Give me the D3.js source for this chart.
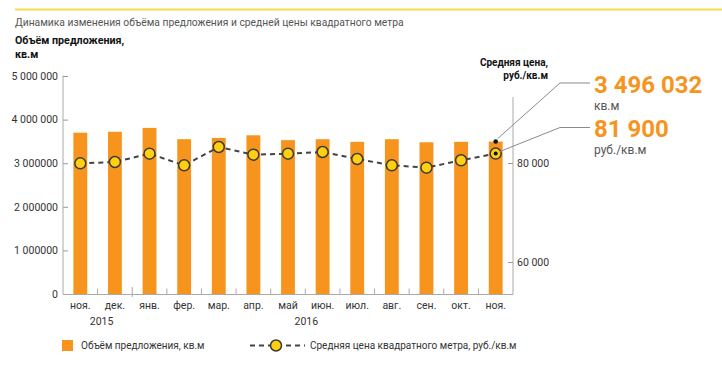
<!DOCTYPE html>
<html><head><meta charset="utf-8">
<script src="https://cdn.jsdelivr.net/npm/d3@7"></script>
<style>
body{margin:0;background:#fff;}
svg{display:block;font-family:Roboto,sans-serif;}
</style></head>
<body><svg id="c" width="722" height="390"></svg>
<script>
const months = ["ноя.","дек.","янв.","фер.","мар.","апр.","май","июн.","июл.","авг.","сен.","окт.","ноя."];
const volume = [3700000,3720000,3810000,3550000,3580000,3640000,3530000,3550000,3490000,3550000,3480000,3490000,3496032];
const price = [79940,80200,81880,79530,83230,81680,81880,82220,80810,79530,79060,80550,81900];
const leftTicks = [0,1000000,2000000,3000000,4000000,5000000];
const leftTickLabels = ["0","1 000000","2 000000","3 000000","4 000 000","5 000 000"];
const rightTicks = [60000,80000];
const rightTickLabels = ["60 000","80 000"];
const years = ["2015","2016"];
const title = "Динамика изменения объёма предложения и средней цены квадратного метра";
const leftTitle = ["Объём предложения,","кв.м"];
const rightTitle = ["Средняя цена,","руб./кв.м"];
const calloutVolume = "3 496 032", calloutVolumeUnit = "кв.м";
const calloutPrice = "81 900", calloutPriceUnit = "руб./кв.м";
const legendLabels = ["Объём предложения, кв.м","Средняя цена квадратного метра, руб./кв.м"];

const ORANGE="#f7941d", YELLOW="#ffd00f", DARK="#3b3b35", TXT="#333", GRAY="#8a8a8a";
const svg=d3.select("#c");
const x=d3.scaleBand().domain(d3.range(months.length)).range([63,513]).paddingInner(0.6).paddingOuter(0.3);
const y=d3.scaleLinear().domain([0,5000000]).range([294,76]);
const yp=d3.scaleLinear().domain([60000,80000]).range([262,163]);
const step=x.step();

// top yellow rule
svg.append("line").attr("x1",15).attr("x2",722).attr("y1",9.5).attr("y2",9.5).attr("stroke","#f6dc4a").attr("stroke-width",2);
svg.append("text").attr("x",15).attr("y",26).attr("font-size",10.3).attr("fill","#555").text(title);
svg.append("g").selectAll("text").data(leftTitle).join("text").attr("x",15).attr("y",(d,i)=>44+i*14)
  .attr("font-size",10.7).attr("font-weight","bold").attr("fill","#111").text(d=>d);
svg.append("g").selectAll("text").data(rightTitle).join("text").attr("x",548).attr("y",(d,i)=>66+i*13).attr("text-anchor","end")
  .attr("font-size",10).attr("font-weight","bold").attr("fill","#111").text(d=>d);

// bars
svg.append("g").selectAll("rect").data(volume).join("rect")
  .attr("x",(d,i)=>x(i)).attr("width",x.bandwidth()).attr("y",d=>y(d)).attr("height",d=>y(0)-y(d)).attr("fill",ORANGE);

// left axis
const gl=svg.append("g").attr("transform","translate(63,0)")
  .call(d3.axisRight(y).tickValues(leftTicks).tickSize(5).tickFormat((d,i)=>leftTickLabels[i]));
gl.select(".domain").remove();
gl.selectAll(".tick line").attr("stroke","#999");
gl.selectAll(".tick text").attr("x",-5).attr("text-anchor","end").attr("font-size",10.5).attr("fill",TXT).attr("font-family","Roboto");
svg.append("line").attr("x1",63).attr("x2",63).attr("y1",75.5).attr("y2",294.5).attr("stroke","#aaa");

// right axis
const gr=svg.append("g").attr("transform","translate(513,0)")
  .call(d3.axisLeft(yp).tickValues(rightTicks).tickSize(5).tickFormat((d,i)=>rightTickLabels[i]));
gr.select(".domain").remove();
gr.selectAll(".tick line").attr("stroke","#999");
gr.selectAll(".tick text").attr("x",4).attr("text-anchor","start").attr("font-size",10.5).attr("fill",TXT).attr("font-family","Roboto");
svg.append("line").attr("x1",513).attr("x2",513).attr("y1",97).attr("y2",294.5).attr("stroke","#aaa");

// bottom axis
svg.append("line").attr("x1",63).attr("x2",513).attr("y1",294.5).attr("y2",294.5).attr("stroke","#aaa");
svg.append("g").selectAll("line").data(d3.range(1,months.length)).join("line")
  .attr("x1",i=>x(i)-step*x.paddingInner()/2).attr("x2",i=>x(i)-step*x.paddingInner()/2)
  .attr("y1",i=>i===2?287:288.5).attr("y2",i=>i===2?297:294).attr("stroke","#aaa");
const cx=i=>x(i)+x.bandwidth()/2;
svg.append("g").selectAll("text").data(months).join("text")
  .attr("x",(d,i)=>cx(i)).attr("y",309).attr("text-anchor","middle").attr("font-size",10.5).attr("fill",TXT).text(d=>d);
svg.append("text").attr("x",(cx(0)+cx(1))/2+4).attr("y",325).attr("text-anchor","middle").attr("font-size",10.5).attr("fill",TXT).text(years[0]);
svg.append("text").attr("x",(cx(6)+cx(7))/2+1).attr("y",325).attr("text-anchor","middle").attr("font-size",10.5).attr("fill",TXT).text(years[1]);

// price line
svg.append("path").datum(price).attr("fill","none").attr("stroke","#444").attr("stroke-width",2).attr("stroke-dasharray","5,4")
  .attr("d",d3.line().x((d,i)=>cx(i)).y(d=>yp(d)));
svg.append("g").selectAll("circle").data(price).join("circle")
  .attr("cx",(d,i)=>cx(i)).attr("cy",d=>yp(d)).attr("r",5.5).attr("fill",YELLOW).attr("stroke",DARK).attr("stroke-width",1.5);

// callouts
const li=months.length-1;
svg.append("circle").attr("cx",cx(li)).attr("cy",yp(price[li])).attr("r",2).attr("fill","#111");
svg.append("circle").attr("cx",cx(li)).attr("cy",y(volume[li])).attr("r",2.3).attr("fill","#111");
svg.append("polyline").attr("points",`${cx(li)+2},${y(volume[li])-3} 560,83 590,83`).attr("fill","none").attr("stroke",GRAY);
svg.append("polyline").attr("points",`${cx(li)+4},${yp(price[li])-2} 560,127.5 590,127.5`).attr("fill","none").attr("stroke",GRAY);
svg.append("text").attr("x",594).attr("y",93).attr("font-size",24).attr("font-weight","bold").attr("fill",ORANGE).text(calloutVolume);
svg.append("text").attr("x",594).attr("y",110).attr("font-size",12).attr("fill","#555").text(calloutVolumeUnit);
svg.append("text").attr("x",594).attr("y",137).attr("font-size",24).attr("font-weight","bold").attr("fill",ORANGE).text(calloutPrice);
svg.append("text").attr("x",594).attr("y",154).attr("font-size",12).attr("fill","#555").text(calloutPriceUnit);

// legend
svg.append("rect").attr("x",62).attr("y",340).attr("width",11).attr("height",11).attr("fill",ORANGE);
svg.append("text").attr("x",81).attr("y",349).attr("font-size",10).attr("fill",TXT).text(legendLabels[0]);
svg.append("line").attr("x1",250).attr("x2",305).attr("y1",345.5).attr("y2",345.5).attr("stroke","#444").attr("stroke-width",2).attr("stroke-dasharray","5,4");
svg.append("circle").attr("cx",276).attr("cy",345.5).attr("r",5.5).attr("fill",YELLOW).attr("stroke",DARK).attr("stroke-width",1.5);
svg.append("text").attr("x",310).attr("y",349).attr("font-size",10).attr("fill",TXT).text(legendLabels[1]);
</script></body></html>
